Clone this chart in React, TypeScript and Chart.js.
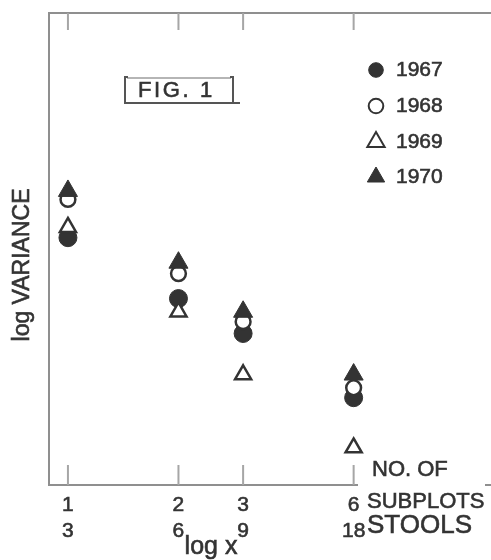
import { useEffect, useRef } from 'react';
import { Chart, registerables } from 'chart.js';

Chart.register(...registerables);

// ---- data ----
const years = ['1967', '1968', '1969', '1970'];
const subplots = [1, 2, 3, 6];
const stools = [3, 6, 9, 18];
const var1967 = [5.24, 3.95, 3.21, 1.85];
const var1968 = [6.05, 4.48, 3.46, 2.06];
const var1969 = [5.46, 3.67, 2.34, 0.79];
const var1970 = [6.23, 4.71, 3.67, 2.34];

const INK = '#333333';
const AXIS = '#8f8f8f';
const FONT = '"Liberation Sans", Arial, sans-serif';

const seriesValues = [var1967, var1968, var1969, var1970];
const seriesStyle = [
  { pointStyle: 'circle', radius: 9, fill: INK, bw: 1, order: 3 },
  { pointStyle: 'circle', radius: 7.4, fill: '#ffffff', bw: 2.5, order: 2 },
  { pointStyle: 'triangle', radius: 9.3, fill: '#ffffff', bw: 2.5, order: 1 },
  { pointStyle: 'triangle', radius: 11, fill: INK, bw: 1, order: 0 },
];

function drawTri(ctx: CanvasRenderingContext2D, x: number, y: number, r: number) {
  ctx.beginPath();
  for (let i = 0; i < 3; i++) {
    const a = -Math.PI / 2 + (i * 2 * Math.PI) / 3;
    const px = x + r * Math.cos(a);
    const py = y + r * Math.sin(a);
    if (i === 0) ctx.moveTo(px, py);
    else ctx.lineTo(px, py);
  }
  ctx.closePath();
}

function boldText(ctx: CanvasRenderingContext2D, s: string, x: number, y: number) {
  ctx.fillText(s, x, y);
  ctx.lineWidth = 0.6;
  ctx.strokeStyle = ctx.fillStyle as string;
  ctx.strokeText(s, x, y);
}

const decorPlugin = {
  id: 'decor',
  afterDraw(chart: any) {
    const ctx: CanvasRenderingContext2D = chart.ctx;
    const xs = chart.scales.x;
    const area = chart.chartArea;
    ctx.save();

    // gap in the bottom axis line behind the "NO. OF / SUBPLOTS" caption
    ctx.fillStyle = '#ffffff';
    ctx.fillRect(358, area.bottom - 3, 127, 6);

    // inner ticks (bottom and top) at the tick values
    ctx.strokeStyle = '#a6a6a6';
    ctx.lineWidth = 2;
    subplots.forEach((v) => {
      const px = xs.getPixelForValue(v);
      ctx.beginPath();
      ctx.moveTo(px, area.bottom);
      ctx.lineTo(px, area.bottom - 20);
      ctx.moveTo(px, area.top);
      ctx.lineTo(px, area.top + 17);
      ctx.stroke();
    });

    // captions
    ctx.fillStyle = INK;
    ctx.textBaseline = 'middle';
    ctx.textAlign = 'left';
    ctx.font = `22px ${FONT}`;
    boldText(ctx, 'NO. OF', 372, 470);
    boldText(ctx, 'SUBPLOTS', 367, 502);
    ctx.font = `26px ${FONT}`;
    boldText(ctx, 'STOOLS', 367, 526);

    ctx.textAlign = 'center';
    ctx.font = `25px ${FONT}`;
    boldText(ctx, 'log x', 211, 547);

    // y axis title
    ctx.save();
    ctx.translate(23, 265);
    ctx.rotate(-Math.PI / 2);
    ctx.font = `23px ${FONT}`;
    ctx.textAlign = 'center';
    boldText(ctx, 'log VARIANCE', 0, 0);
    ctx.restore();

    // FIG. 1 box
    ctx.lineWidth = 2;
    ctx.strokeStyle = '#b5b5b5';
    ctx.beginPath();
    ctx.moveTo(127, 78);
    ctx.lineTo(231, 78);
    ctx.stroke();
    ctx.strokeStyle = '#555555';
    ctx.beginPath();
    ctx.moveTo(128, 77);
    ctx.lineTo(125, 77);
    ctx.lineTo(125, 103);
    ctx.lineTo(240, 103);
    ctx.moveTo(230, 77);
    ctx.lineTo(233, 77);
    ctx.lineTo(233, 103);
    ctx.stroke();
    ctx.fillStyle = INK;
    ctx.textAlign = 'left';
    ctx.font = `22px ${FONT}`;
    (ctx as any).letterSpacing = '2.6px';
    boldText(ctx, 'FIG. 1', 138, 91);
    (ctx as any).letterSpacing = '0px';

    // legend
    const rows = [70, 106, 142, 177];
    years.forEach((yr, i) => {
      const st = seriesStyle[i];
      const cy = rows[i];
      const cx = 376;
      ctx.fillStyle = st.fill;
      ctx.strokeStyle = INK;
      ctx.lineWidth = st.bw === 1 ? 1 : 2;
      if (st.pointStyle === 'circle') {
        ctx.beginPath();
        ctx.arc(cx, cy, 7.3, 0, Math.PI * 2);
      } else {
        drawTri(ctx, cx, cy, 10);
      }
      ctx.fill();
      ctx.stroke();
      ctx.fillStyle = INK;
      ctx.font = `21px ${FONT}`;
      ctx.textAlign = 'left';
      boldText(ctx, yr, 396, cy);
    });

    ctx.restore();
  },
};

export default function App() {
  const ref = useRef<HTMLCanvasElement | null>(null);

  useEffect(() => {
    document.body.style.margin = '0';
    const canvas = ref.current;
    if (!canvas) return;

    const datasets = years.map((yr, i) => {
      const st = seriesStyle[i];
      return {
        label: yr,
        data: subplots.map((x, j) => ({ x, y: seriesValues[i][j] })),
        showLine: false,
        pointStyle: st.pointStyle,
        pointRadius: st.radius,
        pointHoverRadius: st.radius,
        pointBackgroundColor: st.fill,
        pointBorderColor: INK,
        pointBorderWidth: st.bw,
        backgroundColor: st.fill,
        borderColor: INK,
        order: st.order,
      };
    });

    const chart = new Chart(canvas, {
      type: 'scatter',
      data: { datasets } as any,
      options: {
        responsive: false,
        animation: false,
        events: [],
        layout: { autoPadding: false, padding: { left: 49, right: 0, top: 13, bottom: 8.6 } },
        plugins: {
          legend: { display: false },
          tooltip: { enabled: false },
          title: { display: false },
        },
        scales: {
          x: {
            type: 'logarithmic',
            position: 'bottom',
            min: 0.888,
            max: 14.2,
            afterBuildTicks: (axis: any) => {
              axis.ticks = subplots.map((v) => ({ value: v }));
            },
            grid: { display: true, drawOnChartArea: false, drawTicks: false },
            border: { display: true, color: AXIS, width: 2 },
            ticks: {
              autoSkip: false,
              maxRotation: 0,
              minRotation: 0,
              padding: 8,
              color: INK,
              textStrokeColor: INK,
              textStrokeWidth: 0.6,
              font: { family: FONT, size: 21, lineHeight: 1.2 },
              callback: (_v: any, i: number) => [String(subplots[i]), String(stools[i])],
            },
          },
          x2: {
            type: 'logarithmic',
            position: 'top',
            min: 0.888,
            max: 14.2,
            grid: { display: true, drawOnChartArea: false, drawTicks: false },
            border: { display: true, color: AXIS, width: 2 },
            ticks: { display: false },
          },
          y: {
            type: 'linear',
            min: 0,
            max: 10,
            grid: { display: true, drawOnChartArea: false, drawTicks: false },
            border: { display: true, color: AXIS, width: 2 },
            ticks: { display: false },
          },
        },
      } as any,
      plugins: [decorPlugin],
    });

    return () => chart.destroy();
  }, []);

  return (
    <div style={{ position: 'absolute', left: 0, top: 0, width: 491, height: 560 }}>
      <canvas ref={ref} width={491} height={560} style={{ display: 'block' }} />
    </div>
  );
}
